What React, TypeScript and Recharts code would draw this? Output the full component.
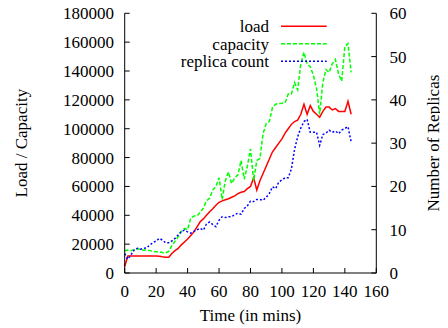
import { ComposedChart, Line, XAxis, YAxis, Legend } from "recharts";

// time in minutes
const times = [
  0, 2, 4, 6, 8, 10, 12, 14, 16, 18, 20, 22, 24, 26, 28, 30, 32, 34, 36, 38,
  40, 42, 44, 46, 48, 50, 52, 54, 56, 58, 60, 62, 64, 66, 68, 70, 72, 74, 76,
  78, 80, 82, 84, 86, 88, 90, 92, 94, 96, 98, 100, 102, 104, 106, 108, 110,
  112, 114, 116, 118, 120, 122, 124, 126, 128, 130, 132, 134, 136, 138, 140,
  142, 144,
];

const load = [
  4500, 11800, 11800, 11800, 11800, 11800, 11800, 11800, 11800, 11800, 11800,
  11600, 11200, 11000, 10900, 13500, 15500, 17000, 19500, 21500, 23500, 26000,
  28500, 32000, 35500, 37500, 40000, 42500, 44500, 47000, 49000, 50000, 50800,
  51500, 52500, 53500, 55000, 56000, 56500, 58500, 60000, 66000, 57500, 64000,
  69000, 74000, 79000, 84000, 87000, 90000, 93000, 97000, 100000, 103000,
  105000, 106000, 110000, 117000, 110000, 116000, 112000, 110000, 108000,
  112000, 115000, 115000, 113000, 114000, 112000, 112000, 112000, 119000,
  110000,
];

const capacity = [
  15400, 15900, 15500, 16200, 16800, 16400, 15800, 16000, 15500, 15000, 14700,
  14700, 14200, 14000, 15000, 19000, 22000, 25000, 28600, 30900, 30000, 38000,
  39500, 39500, 42000, 45000, 50000, 52000, 57500, 60000, 66000, 51000, 64000,
  70000, 62000, 66000, 68000, 78000, 65000, 74000, 86000, 64000, 78000, 79400,
  96700, 103600, 105000, 115000, 117000, 117500, 117600, 118000, 124000,
  124000, 132000, 127000, 145000, 153000, 145000, 143000, 137000, 128000,
  110000, 132000, 141000, 139000, 145000, 148000, 138000, 133000, 157000,
  159000, 139000,
];

const replicas = [
  4.5, 3.2, 4.2, 5.3, 5.7, 5.5, 5.7, 5.8, 6.5, 7, 7.4, 8, 7.6, 7, 7, 7.4, 8,
  8.8, 9.6, 9.9, 9.5, 9.2, 9.6, 10, 10.3, 9.9, 11.3, 11.8, 11.2, 10.7, 12.2,
  13, 12.8, 13, 13, 13.5, 13.8, 13.6, 14.9, 15.5, 16.6, 16.5, 17, 17, 16.8,
  17.5, 18.4, 19.9, 19.5, 21, 21.5, 22, 22, 24, 28.5, 31.5, 33.5, 35, 35.5,
  32.5, 32.5, 32.5, 29.5, 32, 32.3, 33, 32.5, 32.8, 32.2, 33, 33.4, 33.8,
  30.3,
];

const xTicks = [0, 20, 40, 60, 80, 100, 120, 140, 160];
const leftTicks = [0, 20000, 40000, 60000, 80000, 100000, 120000, 140000, 160000, 180000];
const rightTicks = [0, 10, 20, 30, 40, 50, 60];

const data = times.map((t, i) => ({
  t,
  load: load[i],
  capacity: capacity[i],
  replicas: replicas[i],
}));

const font = "Liberation Serif";
const tickStyle = { fill: "#000", fontSize: 17, fontFamily: font };

const series = [
  { name: "load", color: "#ff0000", dash: undefined },
  { name: "capacity", color: "#00ff00", dash: "4 2" },
  { name: "replica count", color: "#0000ff", dash: "2 2" },
];

const renderLegend = () => (
  <svg width={180} height={60} style={{ fontFamily: font }}>
    {series.map((s, i) => (
      <g key={s.name}>
        <text
          x={101}
          y={10.3 + i * 17.5 + 5.7}
          textAnchor="end"
          fontSize={17}
          fontFamily={font}
          fill="#000"
        >
          {s.name}
        </text>
        <line
          x1={113}
          x2={158.7}
          y1={10.3 + i * 17.5}
          y2={10.3 + i * 17.5}
          stroke={s.color}
          strokeWidth={1.5}
          strokeDasharray={s.dash}
        />
      </g>
    ))}
  </svg>
);

const sideLabel = (text: string, x: number) => (props: any) => {
  const vb = props.viewBox || {};
  const cy = (vb.y || 0) + (vb.height || 0) / 2;
  return (
    <text
      x={x}
      y={cy}
      dy="0.33em"
      transform={`rotate(-90, ${x}, ${cy})`}
      textAnchor="middle"
      fontSize={17}
      fontFamily={font}
      fill="#000"
    >
      {text}
    </text>
  );
};

const bottomLabel = (props: any) => {
  const vb = props.viewBox || {};
  const cx = (vb.x || 0) + (vb.width || 0) / 2;
  return (
    <text x={cx} y={318.3} textAnchor="middle" fontSize={17} fontFamily={font} fill="#000">
      Time (in mins)
    </text>
  );
};

export default function App() {
  // svg starts 5px higher so the top tick labels fit inside it
  return (
    <div style={{ fontFamily: font, width: 440, height: 325, marginTop: -5 }}>
      <ComposedChart
        width={440}
        height={325}
        data={data}
        margin={{ top: 10.3, right: 21.7, bottom: 25, left: 56.7 }}
      >
        <XAxis
          xAxisId="x"
          dataKey="t"
          type="number"
          domain={[0, 160]}
          ticks={xTicks}
          interval={0}
          height={30}
          tick={tickStyle}
          tickSize={-5}
          tickMargin={16.6}
          axisLine={{ stroke: "#000" }}
          tickLine={{ stroke: "#000" }}
          label={bottomLabel}
        />
        <XAxis
          xAxisId="xt"
          dataKey="t"
          type="number"
          orientation="top"
          domain={[0, 160]}
          ticks={xTicks}
          interval={0}
          height={0}
          tick={false}
          tickSize={-5}
          axisLine={{ stroke: "#000" }}
          tickLine={{ stroke: "#000" }}
        />
        <YAxis
          yAxisId="l"
          type="number"
          domain={[0, 180000]}
          ticks={leftTicks}
          interval={0}
          width={60}
          tick={tickStyle}
          tickSize={-5}
          tickMargin={15.7}
          axisLine={{ stroke: "#000" }}
          tickLine={{ stroke: "#000" }}
          label={sideLabel("Load / Capacity", 13)}
        />
        <YAxis
          yAxisId="m"
          type="number"
          orientation="right"
          domain={[0, 180000]}
          ticks={leftTicks}
          interval={0}
          width={0}
          tick={false}
          tickSize={-5}
          axisLine={false}
          tickLine={{ stroke: "#000" }}
        />
        <YAxis
          yAxisId="r"
          type="number"
          orientation="right"
          domain={[0, 60]}
          ticks={rightTicks}
          interval={0}
          width={50}
          tick={tickStyle}
          tickSize={-5}
          tickMargin={18.2}
          axisLine={{ stroke: "#000" }}
          tickLine={{ stroke: "#000" }}
          label={sideLabel("Number of Replicas", 425.5)}
        />
        <Legend
          layout="horizontal"
          verticalAlign="middle"
          align="center"
          content={renderLegend}
          wrapperStyle={{ top: 13, left: 160, width: 180, height: 60 }}
        />
        <Line
          xAxisId="x"
          yAxisId="l"
          type="linear"
          dataKey="load"
          stroke="#ff0000"
          strokeWidth={1.5}
          dot={false}
          isAnimationActive={false}
        />
        <Line
          xAxisId="x"
          yAxisId="l"
          type="linear"
          dataKey="capacity"
          stroke="#00ff00"
          strokeWidth={1.5}
          strokeDasharray="4 2"
          dot={false}
          isAnimationActive={false}
        />
        <Line
          xAxisId="x"
          yAxisId="r"
          type="linear"
          dataKey="replicas"
          stroke="#0000ff"
          strokeWidth={1.5}
          strokeDasharray="2 2"
          dot={false}
          isAnimationActive={false}
        />
      </ComposedChart>
    </div>
  );
}
